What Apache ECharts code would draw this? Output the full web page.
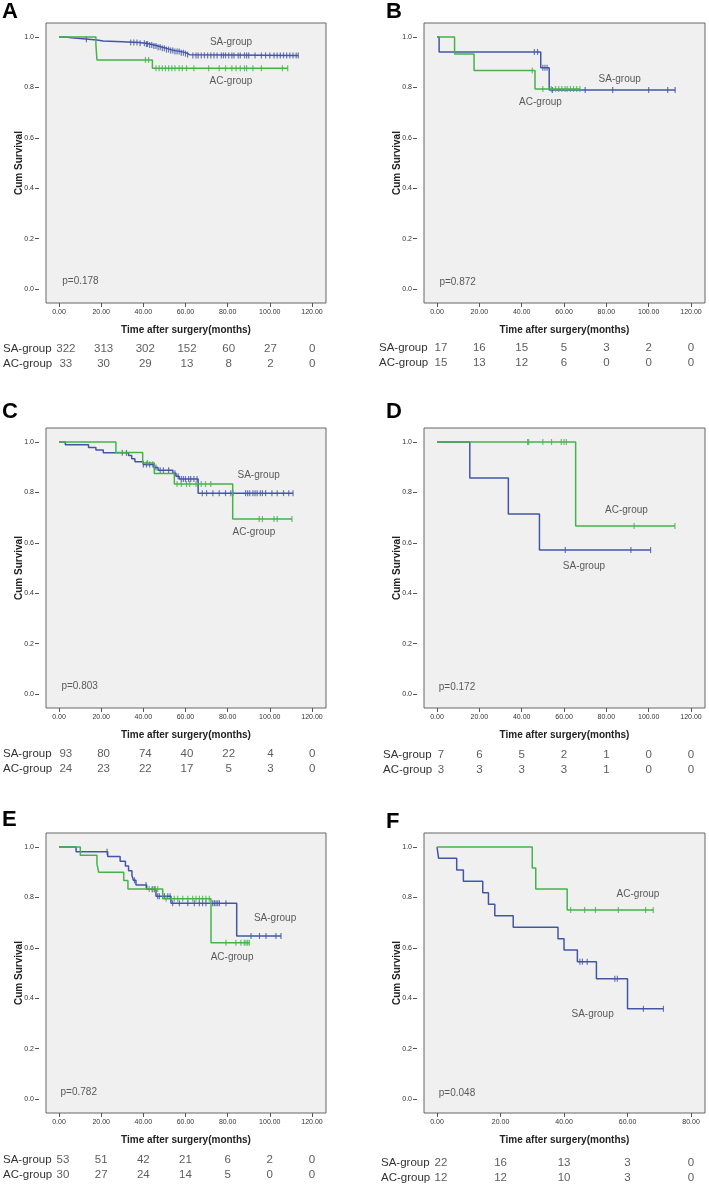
<!DOCTYPE html>
<html><head><meta charset="utf-8">
<script src="https://cdn.jsdelivr.net/npm/echarts@6/dist/echarts.min.js"></script>
<style>html,body{margin:0;padding:0;background:#fff}#c{width:709px;height:1186px}</style>
</head><body><div id="c"></div>
<script>
// ---------------- DATA ----------------
const X_TICKS_120 = [0, 20, 40, 60, 80, 100, 120];
const X_TICKS_80 = [0, 20, 40, 60, 80];
const Y_TICKS = [0, 0.2, 0.4, 0.6, 0.8, 1.0];
const GROUPS = ['SA-group', 'AC-group'];
const X_TITLE = 'Time after surgery(months)';
const Y_TITLE = 'Cum Survival';
const LETTERS = ['A', 'B', 'C', 'D', 'E', 'F'];
const P_VALUES = ['p=0.178', 'p=0.872', 'p=0.803', 'p=0.172', 'p=0.782', 'p=0.048'];

// Panel A
const A_SA = [[0,1],[3,0.997],[6,0.994],[10,0.991],[14,0.988],[18,0.984],[21,0.981],[30,0.978],[38,0.975],[41,0.972],[43,0.968],[45,0.964],[47,0.959],[49,0.955],[51,0.950],[53,0.946],[55,0.942],[58,0.938],[60,0.934],[61,0.930],[62,0.927],[113.5,0.927]];
const A_SA_CENSOR = [13,34,35.5,37,38.5,40.5,41.5,42,43,44,45,46,47,48,49,50,51,52,53,54,55,56,57,58,59,60,61,63.5,65,66,67.5,69,70.5,72,73.5,75,77,78,79,80.5,82,83,85,86,88,89,90,93,96,98,100,102,103.5,105,106.5,108,109.5,111,112.5,113.5];
const A_AC = [[0,1],[17.5,0.970],[18,0.909],[44.3,0.876],[108.5,0.876]];
const A_AC_CENSOR = [41,42.5,46,47.5,49,50.5,52,53.5,55,57,58.5,60.5,64,71,76,79,82,84,86,88,89,92,96,106,108.5];
const A_RISK_SA = [322,313,302,152,60,27,0];
const A_RISK_AC = [33,30,29,13,8,2,0];

// Panel B
const B_SA = [[0,1],[1,0.941],[49,0.878],[53,0.790],[112.5,0.790]];
const B_SA_CENSOR = [46,47.5,50,51,52,54.5,70,83,100,109,112.5];
const B_AC = [[0,1],[8.3,0.933],[17.5,0.867],[46.3,0.794],[67.5,0.794]];
const B_AC_CENSOR = [45,50,54,56,57.5,59,60.5,61.5,63,64.5,66,67.5];
const B_RISK_SA = [17,16,15,5,3,2,0];
const B_RISK_AC = [15,13,12,6,0,0,0];

// Panel C
const C_SA = [[0,1],[3,0.989],[14,0.978],[17.5,0.968],[21,0.957],[33,0.946],[34.5,0.934],[36,0.922],[40,0.911],[45,0.899],[47,0.888],[54,0.876],[55.5,0.864],[57,0.853],[66,0.797],[111,0.797]];
const C_SA_CENSOR = [30,32,40,41.5,43,44.5,46,48,49.5,52,55,56.5,58,59,60,61.5,62.5,64,65.5,68,70,73,76,79,81.5,82.5,88.5,89.5,90.5,92,93,94,95.5,96.5,98,101,103.5,106.5,109,111];
const C_AC = [[0,1],[27,0.958],[39.7,0.917],[45.2,0.875],[54.7,0.833],[82.4,0.694],[110.5,0.694]];
const C_AC_CENSOR = [42,56,58,60.5,62,65,67.5,69.5,72,95,96.5,102,103.5,110.5];
const C_RISK_SA = [93,80,74,40,22,4,0];
const C_RISK_AC = [24,23,22,17,5,3,0];

// Panel D
const D_SA = [[0,1],[15.5,0.857],[33.7,0.714],[48.4,0.571],[100.9,0.571]];
const D_SA_CENSOR = [60.6,91.6,100.9];
const D_AC = [[0,1],[65.5,0.667],[112.4,0.667]];
const D_AC_CENSOR = [42.8,43.3,50,54.1,58.7,60,61.1,93.1,112.4];
const D_RISK_SA = [7,6,5,2,1,0,0];
const D_RISK_AC = [3,3,3,3,1,0,0];

// Panel E
const E_SA = [[0,1],[8.1,0.981],[23.1,0.962],[29,0.943],[31.5,0.925],[33,0.906],[34.6,0.887],[35.3,0.868],[36.5,0.849],[41.6,0.832],[46,0.805],[53.1,0.777],[84.3,0.647],[105.3,0.647]];
const E_SA_CENSOR = [22.8,35.8,41.3,44.2,45.2,46.8,47.6,50,51.6,52.7,53.9,57.1,61.1,64.2,66.6,68.1,69.7,72.9,73.7,74.5,75.3,76.1,79.2,91.1,95.1,98.2,102.9,105.3];
const E_AC = [[0,1],[10.1,0.967],[18,0.933],[18.8,0.9],[30.7,0.867],[32.7,0.833],[49.2,0.795],[72.1,0.62],[90.3,0.62]];
const E_AC_CENSOR = [42.8,44.4,45.7,46.8,50.8,54.7,56.3,58.7,61.1,63.4,65,66.6,68.1,69.7,71.3,79.2,83.9,86.3,87.9,88.7,89.5,90.3];
const E_RISK_SA = [53,51,42,21,6,2,0];
const E_RISK_AC = [30,27,24,14,5,0,0];

// Panel F
const F_SA = [[0,1],[0.5,0.955],[6.2,0.909],[8.3,0.864],[14.4,0.818],[16.2,0.773],[18.2,0.727],[24,0.682],[38.1,0.636],[40,0.591],[44.2,0.545],[50.2,0.477],[60,0.358],[71.3,0.358]];
const F_SA_CENSOR = [45,45.8,47.3,56,56.8,65,71.3];
const F_AC = [[0,1],[30,0.917],[31.1,0.833],[41,0.75],[68.1,0.75]];
const F_AC_CENSOR = [42.1,46.5,49.9,57.1,65.7,68.1];
const F_RISK_SA = [22,16,13,3,0];
const F_RISK_AC = [12,12,10,3,0];

// ---------------- LAYOUT / STYLE ----------------
const FONT = '"Liberation Sans", Arial, sans-serif';
const BLUE = '#4356a6';
const GREEN = '#45b34a';
const TEXT = '#333333';

const panels = [
  {sa:A_SA, saC:A_SA_CENSOR, ac:A_AC, acC:A_AC_CENSOR, rSA:A_RISK_SA, rAC:A_RISK_AC, ticks:X_TICKS_120},
  {sa:B_SA, saC:B_SA_CENSOR, ac:B_AC, acC:B_AC_CENSOR, rSA:B_RISK_SA, rAC:B_RISK_AC, ticks:X_TICKS_120},
  {sa:C_SA, saC:C_SA_CENSOR, ac:C_AC, acC:C_AC_CENSOR, rSA:C_RISK_SA, rAC:C_RISK_AC, ticks:X_TICKS_120},
  {sa:D_SA, saC:D_SA_CENSOR, ac:D_AC, acC:D_AC_CENSOR, rSA:D_RISK_SA, rAC:D_RISK_AC, ticks:X_TICKS_120},
  {sa:E_SA, saC:E_SA_CENSOR, ac:E_AC, acC:E_AC_CENSOR, rSA:E_RISK_SA, rAC:E_RISK_AC, ticks:X_TICKS_120},
  {sa:F_SA, saC:F_SA_CENSOR, ac:F_AC, acC:F_AC_CENSOR, rSA:F_RISK_SA, rAC:F_RISK_AC, ticks:X_TICKS_80}
];
const layout = [
  {left:46, top:23, width:280, xMin:-6.17, xMax:126.66, riskTop:341.8, rowM:46, lx:2, ly:1, saL:[81.6,0.981], acL:[81.6,0.823], pL:[1.3,0.029]},
  {left:424, top:23, width:281, xMin:-6.14, xMax:126.6, riskTop:340.8, rowM:45, lx:386, ly:1, saL:[86.3,0.833], acL:[48.9,0.741], pL:[0.9,0.025]},
  {left:46, top:428, width:280, xMin:-6.17, xMax:126.66, riskTop:746.5, rowM:46, lx:2, ly:401, saL:[94.7,0.869], acL:[92.5,0.642], pL:[0.9,0.029]},
  {left:424, top:428, width:281, xMin:-6.14, xMax:126.6, riskTop:747.5, rowM:41, lx:386, ly:401, saL:[69.4,0.505], acL:[89.5,0.730], pL:[0.6,0.027]},
  {left:46, top:833, width:280, xMin:-6.17, xMax:126.66, riskTop:1152.5, rowM:43, lx:2, ly:809, saL:[102.5,0.719], acL:[82.1,0.562], pL:[0.5,0.025]},
  {left:424, top:833, width:281, xMin:-4.1, xMax:84.4, riskTop:1155.8, rowM:43, lx:386, ly:811, saL:[49,0.336], acL:[63.3,0.812], pL:[0.4,0.023]}
];

function survAt(steps, t) {
  let s = 1;
  for (const [tt, v] of steps) { if (tt <= t) s = v; else break; }
  return s;
}

const grid = [], xAxis = [], yAxis = [], series = [], title = [];
panels.forEach((p, i) => {
  const L = layout[i];
  grid.push({left:L.left, top:L.top, width:L.width, height:280, show:true,
    backgroundColor:'#f0f0f0', borderColor:'#666666', borderWidth:1});
  xAxis.push({type:'value', gridIndex:i, min:L.xMin, max:L.xMax, position:'bottom',
    name:X_TITLE, nameLocation:'middle', nameGap:22, nameMoveOverlap:false,
    nameTextStyle:{fontFamily:FONT, fontSize:10, fontWeight:'bold', color:'#222'},
    axisLine:{show:false, onZero:false}, splitLine:{show:false},
    axisTick:{show:true, length:4, lineStyle:{color:'#555'}, customValues:p.ticks},
    axisLabel:{show:true, fontFamily:FONT, fontSize:7, color:TEXT, margin:6,
      customValues:p.ticks, formatter:v => v.toFixed(2)}});
  yAxis.push({type:'value', gridIndex:i, min:-0.0556, max:1.0556, offset:7, position:'left',
    name:Y_TITLE, nameLocation:'middle', nameGap:15, nameMoveOverlap:false,
    nameTextStyle:{fontFamily:FONT, fontSize:10, fontWeight:'bold', color:'#222'},
    axisLine:{show:false, onZero:false}, splitLine:{show:false},
    axisTick:{show:true, length:4, lineStyle:{color:'#555'}, customValues:Y_TICKS},
    axisLabel:{show:true, fontFamily:FONT, fontSize:7, color:TEXT, margin:5,
      customValues:Y_TICKS, formatter:v => v.toFixed(1)}});
  title.push({text:LETTERS[i], left:L.lx, top:L.ly, padding:0,
    textStyle:{fontFamily:FONT, fontSize:22, fontWeight:'bold', color:'#000'}});

  series.push({type:'line', xAxisIndex:i, yAxisIndex:i, data:p.sa, step:'end',
    symbol:'none', lineStyle:{color:BLUE, width:1.5}, z:3, silent:true});
  series.push({type:'line', xAxisIndex:i, yAxisIndex:i, data:p.ac, step:'end',
    symbol:'none', lineStyle:{color:GREEN, width:1.5}, z:4, silent:true});
  series.push({type:'scatter', xAxisIndex:i, yAxisIndex:i, symbol:'rect', symbolSize:[1.2,6],
    itemStyle:{color:BLUE}, z:3, silent:true,
    data:p.saC.map(t => [t, survAt(p.sa, t)])});
  series.push({type:'scatter', xAxisIndex:i, yAxisIndex:i, symbol:'rect', symbolSize:[1.2,6],
    itemStyle:{color:GREEN}, z:4, silent:true,
    data:p.acC.map(t => [t, survAt(p.ac, t)])});
  const lbl = {fontFamily:FONT, fontSize:10, color:TEXT};
  series.push({type:'scatter', xAxisIndex:i, yAxisIndex:i, symbolSize:1,
    itemStyle:{color:'rgba(0,0,0,0)'}, z:5, silent:true,
    data:[
      {value:L.saL, label:{show:true, position:'inside', formatter:GROUPS[0], ...lbl}},
      {value:L.acL, label:{show:true, position:'inside', formatter:GROUPS[1], ...lbl}},
      {value:L.pL, label:{show:true, position:'right', distance:0, formatter:P_VALUES[i], ...lbl}}
    ]});
});

// risk tables
panels.forEach((p, i) => {
  const L = layout[i];
  const gi = 6 + i;
  grid.push({left:L.left, top:L.riskTop, width:L.width, height:30, show:false});
  xAxis.push({type:'value', gridIndex:gi, min:L.xMin, max:L.xMax, show:false});
  yAxis.push({type:'category', gridIndex:gi, data:GROUPS, inverse:true,
    axisLine:{show:false}, axisTick:{show:false}, splitLine:{show:false},
    axisLabel:{show:true, interval:0, hideOverlap:false, align:'left', margin:L.rowM,
      fontFamily:FONT, fontSize:11.5, color:TEXT}});
  const data = [];
  p.ticks.forEach((t, k) => {
    const off = k === 0 ? 4 : 0;
    data.push({value:[t, GROUPS[0], p.rSA[k]], label:{offset:[off,0]}});
    data.push({value:[t, GROUPS[1], p.rAC[k]], label:{offset:[off,0]}});
  });
  series.push({type:'scatter', xAxisIndex:gi, yAxisIndex:gi, symbolSize:1,
    itemStyle:{color:'rgba(0,0,0,0)'}, silent:true,
    label:{show:true, position:'inside', fontFamily:FONT, fontSize:11.5, color:TEXT,
      formatter:d => String(d.value[2])},
    data});
});

const chart = echarts.init(document.getElementById('c'), null, {renderer:'canvas'});
chart.setOption({animation:false, backgroundColor:'#ffffff', title, grid, xAxis, yAxis, series});
</script></body></html>
